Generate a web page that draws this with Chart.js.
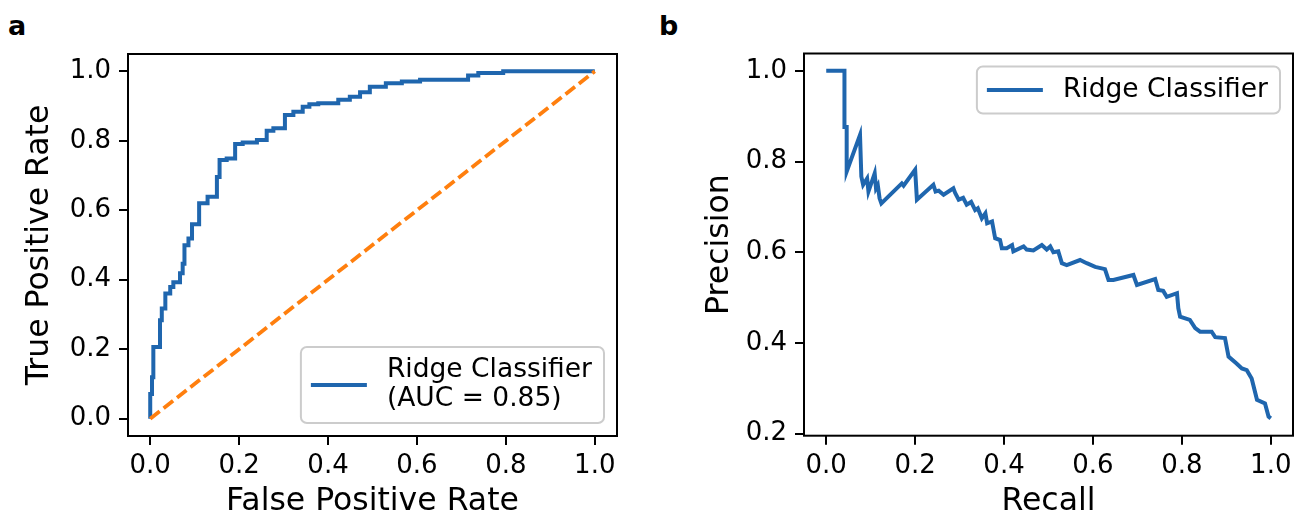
<!DOCTYPE html>
<html>
<head>
<meta charset="utf-8">
<script src="https://cdn.jsdelivr.net/npm/chart.js@4.4.0/dist/chart.umd.min.js"></script>
<style>
  body { margin: 0; background: #fff; width: 1298px; height: 518px; position: relative; overflow: hidden; }
  canvas { position: absolute; top: 0; }
  #rocChart { left: 0; }
  #prChart { left: 650px; }
  .panel { position: absolute; font: bold 27px 'DejaVu Sans'; color: #000; line-height: 30px; }
</style>
</head>
<body>
<div class="panel" style="left:8px;top:11px">a</div>
<div class="panel" style="left:659px;top:11px">b</div>
<canvas id="rocChart" width="650" height="518"></canvas>
<canvas id="prChart" width="648" height="518"></canvas>
<script>
// ROC curve (panel a)
const rocFpr = [0, 0, 0.004, 0.007, 0.013, 0.022, 0.026, 0.034, 0.045, 0.052, 0.067, 0.073, 0.077, 0.086, 0.094,
    0.11, 0.129, 0.15, 0.156, 0.172, 0.191, 0.208, 0.24, 0.262, 0.277, 0.303, 0.322, 0.343, 0.358, 0.378,
    0.423, 0.449, 0.472, 0.494, 0.53, 0.566, 0.607, 0.715, 0.738, 0.794, 0.899, 1.0];
const rocTpr = [0, 0.043, 0.071, 0.119, 0.206, 0.206, 0.283, 0.317, 0.36, 0.379, 0.393, 0.419, 0.446, 0.499, 0.519,
    0.56, 0.62, 0.639, 0.696, 0.745, 0.749, 0.791, 0.795, 0.802, 0.829, 0.836, 0.874, 0.884, 0.898, 0.905,
    0.908, 0.918, 0.927, 0.94, 0.956, 0.966, 0.971, 0.976, 0.988, 0.995, 1.0, 1.0];
const chanceX = [0, 1];
const chanceY = [0, 1];
const rocLabel = ['Ridge Classifier', '(AUC = 0.85)'];

// precision-recall curve (panel b)
const prRecall = [0, 0.041, 0.041, 0.046, 0.046, 0.076, 0.079, 0.083, 0.092, 0.095, 0.109, 0.112, 0.116, 0.120,
    0.124, 0.170, 0.174, 0.200, 0.204, 0.241, 0.246, 0.253, 0.264, 0.286, 0.290, 0.298, 0.308, 0.316, 0.326,
    0.335, 0.341, 0.350, 0.358, 0.362, 0.373, 0.380, 0.391, 0.395, 0.406, 0.418, 0.421, 0.444, 0.451, 0.466,
    0.485, 0.496, 0.504, 0.511, 0.522, 0.530, 0.541, 0.571, 0.586, 0.605, 0.627, 0.635, 0.646, 0.691, 0.699,
    0.740, 0.747, 0.758, 0.766, 0.789, 0.792, 0.796, 0.818, 0.830, 0.841, 0.867, 0.875, 0.897, 0.905, 0.923,
    0.935, 0.946, 0.957, 0.969, 0.987, 0.995, 1.0];
const prPrecision = [1.0, 1.0, 0.876, 0.876, 0.778, 0.859, 0.767, 0.749, 0.763, 0.734, 0.774, 0.741, 0.748, 0.719,
    0.708, 0.752, 0.747, 0.782, 0.716, 0.749, 0.734, 0.736, 0.727, 0.741, 0.731, 0.716, 0.720, 0.705, 0.711,
    0.693, 0.697, 0.675, 0.686, 0.664, 0.668, 0.631, 0.627, 0.609, 0.609, 0.616, 0.602, 0.613, 0.606, 0.604,
    0.616, 0.606, 0.613, 0.600, 0.602, 0.576, 0.572, 0.583, 0.576, 0.568, 0.563, 0.539, 0.539, 0.550, 0.528,
    0.541, 0.517, 0.515, 0.502, 0.510, 0.477, 0.458, 0.451, 0.433, 0.425, 0.425, 0.413, 0.411, 0.370, 0.355,
    0.344, 0.340, 0.322, 0.275, 0.267, 0.238, 0.234];
const prLabel = ['Ridge Classifier'];

const unitTicks = [0, 0.2, 0.4, 0.6, 0.8, 1.0];
const precisionTicks = [0.2, 0.4, 0.6, 0.8, 1.0];

const blue = '#1f66ae';
const orange = '#ff7f0e';
const font = "'DejaVu Sans'";

function toPoints(xs, ys) {
    return xs.map((x, i) => ({ x: x, y: ys[i] }));
}

// matplotlib style box round the plot area
const framePlugin = {
    id: 'frame',
    afterDraw(chart) {
        const a = chart.chartArea;
        const ctx = chart.ctx;
        ctx.save();
        ctx.strokeStyle = '#000';
        ctx.lineWidth = 2;
        ctx.strokeRect(a.left, a.top, a.right - a.left, a.bottom - a.top);
        ctx.restore();
    }
};

// legend box in a corner of the plot area
function boxLegend(corner, lines) {
    return {
        id: 'boxLegend',
        afterDraw(chart) {
            const a = chart.chartArea;
            const ctx = chart.ctx;
            ctx.save();
            ctx.font = '26.5px ' + font;
            const textW = Math.max(...lines.map(t => ctx.measureText(t).width));
            const lineH = 29;
            const w = 10 + 56 + 20 + textW + 12;
            const h = lines.length * lineH + 18;
            const x = a.right - 13 - w;
            const y = corner === 'lower right' ? a.bottom - 13 - h : a.top + 13;
            ctx.fillStyle = 'rgba(255,255,255,0.8)';
            ctx.strokeStyle = '#cccccc';
            ctx.lineWidth = 2;
            ctx.beginPath();
            ctx.roundRect(x, y, w, h, 6);
            ctx.fill();
            ctx.stroke();
            const midY = y + h / 2;
            ctx.strokeStyle = blue;
            ctx.lineWidth = 4;
            ctx.beginPath();
            ctx.moveTo(x + 10, midY);
            ctx.lineTo(x + 66, midY);
            ctx.stroke();
            ctx.fillStyle = '#000';
            ctx.textBaseline = 'middle';
            lines.forEach((t, i) => {
                ctx.fillText(t, x + 86, midY + (i - (lines.length - 1) / 2) * lineH);
            });
            ctx.restore();
        }
    };
}

function axis(min, max, ticks, title, fitSize, titlePad, isY) {
    return {
        type: 'linear',
        min: min,
        max: max,
        afterBuildTicks: s => { s.ticks = ticks.map(v => ({ value: v })); },
        afterFit: s => { if (isY) s.width = fitSize; else s.height = fitSize; },
        border: { display: false },
        grid: { drawOnChartArea: false, drawTicks: true, tickLength: 9, color: '#000', lineWidth: 2 },
        ticks: {
            color: '#000',
            padding: isY ? 8 : 6,
            font: { family: font, size: 26 },
            maxRotation: 0,
            callback: v => v.toFixed(1)
        },
        title: {
            display: true,
            text: title,
            color: '#000',
            font: { family: font, size: 31.5, lineHeight: 1 },
            padding: isY ? { top: titlePad, bottom: 0 } : { top: 0, bottom: titlePad }
        }
    };
}

function baseOptions(layoutPadding) {
    return {
        responsive: false,
        animation: false,
        devicePixelRatio: 1,
        layout: { padding: layoutPadding },
        plugins: { legend: { display: false }, tooltip: { enabled: false } },
        elements: { point: { radius: 0 } }
    };
}

const rocOptions = baseOptions({ left: 0, top: 54, right: 33, bottom: 0 });
rocOptions.scales = {
    x: axis(-0.05, 1.05, unitTicks, 'False Positive Rate', 82, 0, false),
    y: axis(-0.05, 1.05, unitTicks, 'True Positive Rate', 128, 24, true)
};

new Chart(document.getElementById('rocChart'), {
    type: 'scatter',
    data: {
        datasets: [{
            label: rocLabel.join(' '),
            data: toPoints(rocFpr, rocTpr),
            showLine: true,
            stepped: 'after',
            borderColor: blue,
            borderWidth: 4,
            order: 2
        }, {
            label: 'chance',
            data: toPoints(chanceX, chanceY),
            showLine: true,
            borderColor: orange,
            borderWidth: 3.8,
            borderDash: [12, 5],
            order: 1
        }]
    },
    options: rocOptions,
    plugins: [framePlugin, boxLegend('lower right', rocLabel)]
});

const prOptions = baseOptions({ left: 0, top: 53.5, right: 5, bottom: 0 });
prOptions.scales = {
    x: axis(-0.05, 1.05, unitTicks, 'Recall', 82.3, 0, false),
    y: axis(0.1957, 1.0383, precisionTicks, 'Precision', 154, 54, true)
};

new Chart(document.getElementById('prChart'), {
    type: 'scatter',
    data: {
        datasets: [{
            label: prLabel[0],
            data: toPoints(prRecall, prPrecision),
            showLine: true,
            borderColor: blue,
            borderWidth: 4
        }]
    },
    options: prOptions,
    plugins: [framePlugin, boxLegend('upper right', prLabel)]
});
</script>
</body>
</html>
